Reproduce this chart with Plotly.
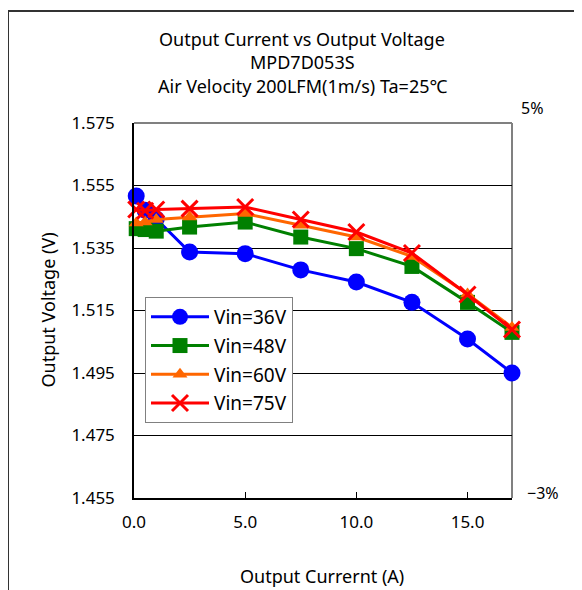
import plotly.graph_objects as go

current = [0.1, 0.5, 1.0, 2.5, 5.0, 7.5, 10.0, 12.5, 15.0, 17.0]
v36 = [1.5516, 1.5471, 1.5443, 1.5337, 1.5332, 1.5280, 1.5241, 1.5176, 1.5059, 1.4950]
v48 = [1.5412, 1.5409, 1.5404, 1.5417, 1.5433, 1.5385, 1.5348, 1.5291, 1.5176, 1.5080]
v60 = [1.5430, 1.5433, 1.5441, 1.5449, 1.5460, 1.5423, 1.5385, 1.5323, 1.5203, 1.5096]
v75 = [1.5473, 1.5469, 1.5473, 1.5476, 1.5481, 1.5441, 1.5401, 1.5334, 1.5201, 1.5089]
series_names = ["Vin=36V", "Vin=48V", "Vin=60V", "Vin=75V"]
y_ticks = [1.455, 1.475, 1.495, 1.515, 1.535, 1.555, 1.575]
x_ticks = [0.0, 5.0, 10.0, 15.0]
title_lines = ["Output Current vs Output Voltage", "MPD7D053S",
               "Air Velocity 200LFM(1m/s) Ta=25℃"]

FONT = "Noto Sans, DejaVu Sans, sans-serif"

# plot area geometry (figure pixels)
L, T, W, H = 126, 115, 378, 375
FIG_W, FIG_H = 574, 582


def px(fx):
    return (fx - L) / W


def py(fy):
    return (T + H - fy) / H


fig = go.Figure()
styles = [
    dict(color="#0000FF", marker=dict(symbol="circle", size=17, color="#0000FF")),
    dict(color="#008000", marker=dict(symbol="square", size=15, color="#008000")),
    dict(color="#FF6600", marker=dict(symbol="triangle-up", size=13, color="#FF6600")),
    dict(color="#FF0000", marker=dict(symbol="x-thin", size=16, color="#FF0000",
                                      line=dict(width=3, color="#FF0000"))),
]
for name, vals, st in zip(series_names, [v36, v48, v60, v75], styles):
    fig.add_trace(go.Scatter(
        x=current, y=vals, name=name, mode="lines+markers",
        line=dict(color=st["color"], width=3),
        marker=st["marker"], cliponaxis=False, legendgroup=name,
    ))

fig.update_layout(
    width=FIG_W, height=FIG_H,
    margin=dict(l=L, r=FIG_W - L - W, t=T, b=FIG_H - T - H),
    paper_bgcolor="white", plot_bgcolor="white",
    font=dict(family=FONT, size=17, color="black"),
    xaxis=dict(
        range=[0, 17], tickvals=x_ticks, tickformat=".1f",
        showgrid=False, zeroline=False,
        showline=True, linecolor="black", linewidth=1.5,
        ticks="inside", ticklen=6, tickcolor="black",
        ticklabelstandoff=8,
        tickfont=dict(size=17),
    ),
    yaxis=dict(
        range=[1.455, 1.575], tickvals=y_ticks, tickformat=".3f",
        showgrid=True, gridcolor="black", gridwidth=1,
        zeroline=False,
        showline=True, linecolor="black", linewidth=1.5,
        ticks="", ticklabelstandoff=14,
        tickfont=dict(size=17),
    ),
    legend=dict(
        x=px(137), y=py(289), xanchor="left", yanchor="top",
        bgcolor="white", bordercolor="#808080", borderwidth=1,
        font=dict(size=19), itemwidth=58, tracegroupgap=1,
        traceorder="grouped",
    ),
    showlegend=True,
)

# gray top/right frame
fig.add_shape(type="line", xref="paper", yref="paper", x0=0, x1=1, y0=1, y1=1,
              line=dict(color="#808080", width=2), layer="between")
fig.add_shape(type="line", xref="paper", yref="paper", x0=1, x1=1, y0=0, y1=1,
              line=dict(color="#808080", width=2), layer="between")
# outer border of the picture
fig.add_shape(type="rect", xref="paper", yref="paper",
              x0=px(0), x1=1.5, y0=-0.5, y1=py(3),
              line=dict(color="#333333", width=2), layer="below")

for line_text, fy in zip(title_lines, [31, 54, 78]):
    fig.add_annotation(text=line_text, xref="paper", yref="paper",
                       x=px(294), y=py(fy), showarrow=False,
                       xanchor="center", yanchor="middle", font=dict(size=18))

fig.add_annotation(text="Output Voltage (V)", textangle=-90, xref="paper", yref="paper",
                   x=px(39), y=0.5, showarrow=False, xanchor="center", yanchor="middle",
                   font=dict(size=18))
fig.add_annotation(text="Output Currernt (A)", xref="paper", yref="paper",
                   x=px(314), y=py(568), showarrow=False,
                   xanchor="center", yanchor="middle", font=dict(size=18))
fig.add_annotation(text="5%", xref="paper", yref="paper",
                   x=px(524), y=py(100), showarrow=False,
                   xanchor="center", yanchor="middle", font=dict(size=16))
fig.add_annotation(text="−3%", xref="paper", yref="paper",
                   x=px(535), y=py(485), showarrow=False,
                   xanchor="center", yanchor="middle", font=dict(size=16))

fig.write_html("out.html")
